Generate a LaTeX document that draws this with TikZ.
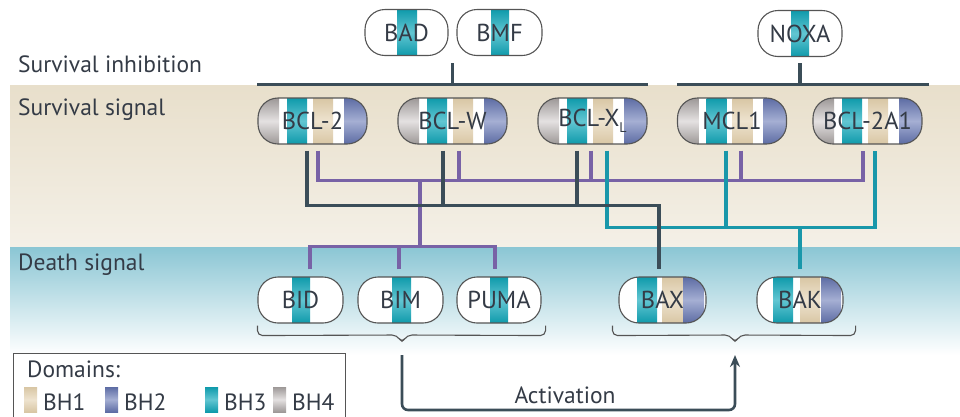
\documentclass[tikz,border=0pt]{standalone}
\usepackage{fontspec}
\setmainfont{PT Sans}
\usetikzlibrary{calc,arrows.meta}
\definecolor{txt}{HTML}{343B46}
\definecolor{dkc}{HTML}{3B4D58}
\definecolor{puc}{HTML}{7862A6}
\definecolor{tlc}{HTML}{1997AA}
\definecolor{pillb}{HTML}{555555}
\definecolor{beigeT}{HTML}{E8DFCB}
\definecolor{beigeB}{HTML}{F4F0E7}
\definecolor{blueT}{HTML}{8BC6D4}
\definecolor{cyD}{HTML}{0F9AAB}
\definecolor{cyL}{HTML}{62C6D2}
\definecolor{beD}{HTML}{D8C6A4}
\definecolor{beL}{HTML}{EEE3CF}
\definecolor{blD}{HTML}{5D6CA4}
\definecolor{blL}{HTML}{A5AFD3}
\definecolor{grD}{HTML}{9D9897}
\definecolor{grL}{HTML}{E4E1E1}
\newcommand\stp[3]{\shade[sharp corners,#1] ([xshift=#2pt]path picture bounding box.north west) rectangle ([xshift=#3pt]path picture bounding box.south west);}
\begin{document}
\begin{tikzpicture}[x=1pt,y=-1pt,
  cA/.style={top color=beD, bottom color=beD, middle color=beL},
  cB/.style={top color=blD, bottom color=blD, middle color=blL},
  cC/.style={top color=cyD, bottom color=cyD, middle color=cyL},
  cD/.style={top color=grD, bottom color=grD, middle color=grL},
  pill/.style={draw=pillb, line width=1.1pt, rounded corners=20pt, fill=white,
    minimum height=46pt, inner sep=0pt, text=txt, font=\fontsize{24.5}{24.5}\selectfont},
  bigpill/.style={pill, minimum width=109pt,
    path picture={\stp{cD}{0}{21}\stp{cC}{29}{49}\stp{cA}{55}{75}\stp{cB}{86}{109}}},
  lbl/.style={inner sep=0pt, text=txt, font=\fontsize{23.5}{23.5}\selectfont},
  dk/.style={draw=dkc, line width=3.6pt},
  pu/.style={draw=puc, line width=3.2pt},
  tl/.style={draw=tlc, line width=3.2pt},
  br/.style={draw=pillb, line width=1.1pt, rounded corners=5pt},
]
\useasboundingbox (0,0) rectangle (960,416);
% backgrounds
\shade[top color=beigeT, bottom color=beigeB] (10,85) rectangle (960,247);
\shade[top color=blueT, bottom color=white] (10,247) rectangle (960,355);

% labels
\node[lbl, anchor=base west] (lsi) at (18,72) {Survival inhibition};
\node[lbl, anchor=base west] (lss) at (18,115) {Survival signal};
\node[lbl, anchor=base west] (lds) at (18,270) {Death signal};

% top nodes
\node[pill, minimum width=83pt, path picture={\stp{cC}{32}{52}}] (bad) at (406.5,32.5) {BAD};
\node[pill, minimum width=85pt, path picture={\stp{cC}{34}{52}}] (bmf) at (499.5,32.5) {BMF};
\node[pill, minimum width=84pt, path picture={\stp{cC}{33}{51}}] (noxa) at (800,33.5) {NOXA};

% middle nodes
\node[bigpill] (bcl2) at (312.5,121) {BCL-2};
\node[bigpill] (bclw) at (452.5,121) {BCL-W};
\node[bigpill] (bclxl) at (592.5,121) {BCL-X\raisebox{-0.5ex}{\fontsize{14}{14}\selectfont L}};
\node[bigpill] (mcl1) at (732,121) {MCL1};
\node[bigpill] (bcl2a1) at (867.5,121) {BCL-2A1};

% bottom nodes
\node[pill, minimum width=85pt, path picture={\stp{cC}{34}{52}}] (bid) at (300.5,300) {BID};
\node[pill, minimum width=85pt, path picture={\stp{cC}{34}{53}}] (bim) at (400.5,300) {BIM};
\node[pill, minimum width=84pt, path picture={\stp{cC}{33}{51}}] (puma) at (499,300) {PUMA};
\node[pill, minimum width=87pt, path picture={\stp{cC}{18}{38}\stp{cA}{43}{64}\stp{cB}{64}{85}}] (bax) at (662.5,300) {BAX};
\node[pill, minimum width=86pt, path picture={\stp{cC}{16}{36}\stp{cA}{43}{63}\stp{cB}{64}{84}}] (bak) at (800,300) {BAK};

% top bars
\draw[dk] ($(bcl2.north west)+(0,-13)$) -- ($(bclxl.north east)+(0,-13)$);
\draw[dk] ($(bad.south east)!0.5!(bmf.south west)+(0,7)$) -- ++(0,23);
\draw[dk] ($(mcl1.north west)+(0,-13)$) -- ($(bcl2a1.north east)+(6,-13)$);
\draw[dk] ($(noxa.south)+(0,6)$) -- ++(0,23);

% purple (survival signal -> BH3-only)
\draw[pu] ($(bcl2.south)+(5.5,6)$) |- ($(bcl2a1.south)+(-4.5,36)$) -- ($(bcl2a1.south)+(-4.5,6)$);
\draw[pu] ($(bclw.south)+(6.5,6)$) -- ++(0,30);
\draw[pu] ($(bclxl.south)+(-1.5,6)$) -- ++(0,30);
\draw[pu] ($(mcl1.south)+(9,6)$) -- ++(0,30);
\coordinate (pj) at (420,180);
\coordinate (pk) at (420,247);
\draw[pu] (pj) -- (pk);
\draw[pu] ($(bid.north)+(9.5,-7)$) |- ($(puma.north)+(-4,-30)$) -- ($(puma.north)+(-4,-7)$);
\draw[pu] ($(bim.north)+(-1.5,-7)$) -- ++(0,-23);

% teal
\draw[tl] ($(bclxl.south)+(14.5,6)$) |- ($(bcl2a1.south)+(7.5,83)$) -- ($(bcl2a1.south)+(7.5,6)$);
\draw[tl] ($(mcl1.south)+(-6,6)$) -- ++(0,77);
\draw[tl] ($(bak.north)+(0,-7)$) -- ++(0,-43);

% dark
\draw[dk] ($(bcl2.south)+(-5.5,6)$) -- ++(0,55) -| ($(bax.north)+(-3.5,-7)$);
\draw[dk] ($(bclw.south)+(-9.5,6)$) -- ++(0,55);
\draw[dk] ($(bclxl.south)+(-15.5,6)$) -- ++(0,55);

% braces
\coordinate (lb) at (402,343);
\coordinate (rb) at (735,343);
\draw[br] ($(bid.south west)+(0,2)$) -- ++(0,10) -- ($(lb)+(-5,-8)$) -- (lb) -- ($(lb)+(5,-8)$) -- ($(puma.south east)+(4,12)$) -- ($(puma.south east)+(4,2)$);
\draw[br] ($(bax.south west)+(-6,2)$) -- ++(0,10) -- ($(rb)+(-5,-8)$) -- (rb) -- ($(rb)+(5,-8)$) -- ($(bak.south east)+(12,12)$) -- ($(bak.south east)+(12,2)$);

% activation
\draw[dk, line width=2.6pt, rounded corners=6pt, -{Stealth[length=12pt,width=10pt]}] ($(lb)+(0,12)$) -- ($(lb)+(0,67)$) -| ($(rb)+(0,12)$);
\node[lbl] (act) at (565,395) {Activation};

% legend
\draw[draw=pillb, line width=1pt, fill=white] (13,353) rectangle (345,420);
\node[lbl, anchor=base west] (dom) at (27,377) {Domains:};
\shade[cA] (24,387) rectangle (37,412);
\node[lbl, anchor=base west] (l1) at (43,410) {BH1};
\shade[cB] (105,387) rectangle (118,412);
\node[lbl, anchor=base west] (l2) at (124,410) {BH2};
\shade[cC] (205,387) rectangle (218,412);
\node[lbl, anchor=base west] (l3) at (224,410) {BH3};
\shade[cD] (273,387) rectangle (286,412);
\node[lbl, anchor=base west] (l4) at (292,410) {BH4};
\end{tikzpicture}
\end{document}
